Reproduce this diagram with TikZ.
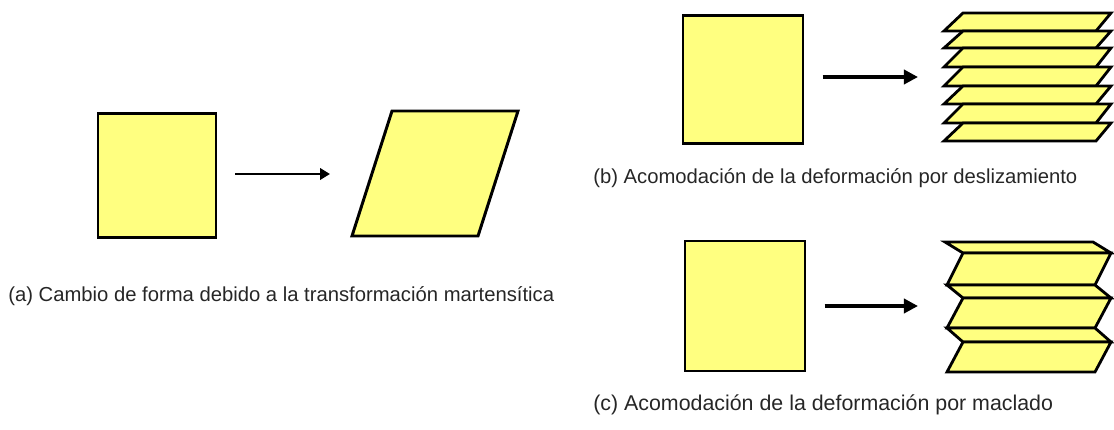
\documentclass[tikz,border=0pt]{standalone}
\usepackage{fontspec}
\setmainfont{Liberation Sans}
\usetikzlibrary{arrows.meta,positioning}
\definecolor{Cream}{HTML}{FFFF80}
\definecolor{TextGray}{HTML}{262626}

\begin{document}
\begin{tikzpicture}[x=0.025cm,y=-0.025cm,line join=miter,block/.style={draw=black,fill=Cream,line width=2.1pt,inner sep=0pt},layer/.style={draw=black,fill=Cream,line width=2pt},arr/.style={-{Triangle[length=7pt,width=8pt]},line width=1.8pt},bigarr/.style={-{Triangle[length=10pt,width=10pt]},line width=2.6pt},captext/.style={anchor=west,inner sep=0pt,text=TextGray,font=\fontsize{14.4}{17}\selectfont}]
\useasboundingbox (0,0) rectangle (1114,429);
% (a) cambio de forma
\node[block,minimum width=2.95cm,minimum height=3.1cm] (sqA) at (157,175.5){};
\draw[block] (352,236) -- (478,236) -- (518,111) -- (392,111) -- cycle;
\coordinate (tipA) at (330,174);
\draw[arr,shorten <=0.45cm] (tipA -| sqA.east) -- (tipA);
\node[captext] (capA) at (8,296){(a) Cambio de forma debido a la transformación martensítica};
% (b) deslizamiento
\node[block,minimum width=3cm,minimum height=3.2cm] (sqB) at (743,79.5){};
\coordinate (tipB) at (918,77);
\draw[bigarr,shorten <=0.45cm] (tipB -| sqB.east) -- (tipB);
\foreach \yt/\yb in {13/31,31/48,48/67,67/86,86/104,104/123,123/141}{
\draw[layer] (944,\yb) -- (1096,\yb) -- (1111,\yt) -- (963,\yt) -- cycle;
}
\node[captext] (capB) at (593,178){(b) Acomodación de la deformación por deslizamiento};
% (c) maclado
\node[block,minimum width=3cm,minimum height=3.25cm] (sqC) at (745,306){};
\coordinate (tipC) at (918,306);
\draw[bigarr,shorten <=0.45cm] (sqC.east) -- (tipC);
\foreach \ya/\xa/\yb/\xb in {242/945/253/963,253/963/285/947,285/947/298/963,298/963/328/947,328/947/342/963,342/963/372/947}{
\draw[layer] (\xa,\ya) -- ({\xa+148},\ya) -- ({\xb+148},\yb) -- (\xb,\yb) -- cycle;
}
\node[captext,font=\fontsize{15.2}{18}\selectfont] (capC) at (593,405){(c) Acomodación de la deformación por maclado};
\end{tikzpicture}
\end{document}
